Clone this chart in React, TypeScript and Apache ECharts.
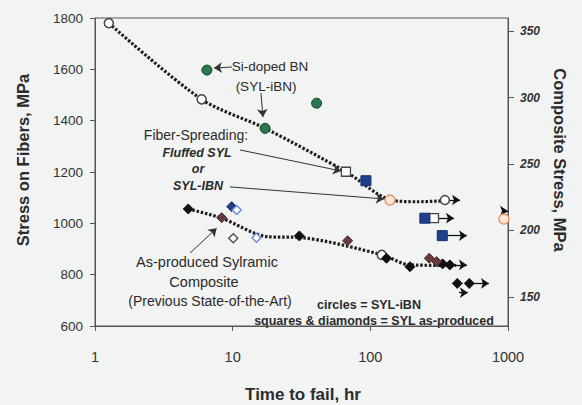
import React, { useEffect, useRef } from "react";
import * as echarts from "echarts";

// ---- data ----
const timeTicks = [1, 10, 100, 1000];
const fiberRange = [600, 1800];
const compositeRange = [128, 360];

// Trend (dotted) lines [hours, MPa]
const upperTrend = [[1.26, 1780], [5.95, 1483], [17.2, 1370], [66.5, 1201], [139, 1092], [220, 1084], [348, 1088]];
const lowerTrend = [[4.76, 1056], [8.32, 1020], [18, 948], [30.5, 945], [121, 878], [194, 838], [420, 836]];

// Markers
const siDopedBN = [[6.5, 1597], [17.2, 1370], [40.7, 1468]];
const sylIbnOpen = [[1.26, 1780], [5.95, 1483], [348, 1091], [121, 877]];
const sylIbnOrange = [[139, 1091], [934, 1017]];
const openSquares = [[66.5, 1201], [290, 1020]];
const navySquares = [[92.9, 1166], [249, 1020], [333, 952]];
const blackDiamonds = [[4.76, 1056], [30.5, 951], [131, 864], [194, 831], [335, 842], [378, 838], [428, 766], [523, 766]];
const brownDiamonds = [[8.32, 1022], [68.4, 932], [268, 864], [303, 851]];
const navyDiamonds = [[9.83, 1065]];
const lightBlueDiamonds = [[10.7, 1052], [14.9, 944]];
const openDiamonds = [[10.1, 942]];

// Run-out arrows: [fromHours, toHours, MPa]
const runouts = [[348, 448, 1091], [290, 405, 1020], [333, 503, 952], [378, 503, 838], [523, 727, 766], [440, 511, 730], [940, 1000, 1048]];

// Annotation arrows: [fromHours, fromMPa, toHours, toMPa]
const annotationArrows = [
  [9.88, 1609, 7.31, 1605],
  [16.05, 1508, 16.6, 1414],
  [11.3, 1286, 61.2, 1204],
  [9.56, 1142, 125.6, 1095],
  [4.9, 884, 7.65, 981],
];

const FONT = "Liberation Sans, Arial, sans-serif";

export default function App() {
  const ref = useRef<HTMLDivElement>(null);
  useEffect(() => {
    if (!ref.current) return;
    const chart = echarts.init(ref.current, null, { renderer: "svg" });
    const scatter = (name: string, data: number[][], symbol: string, size: number, color: string, borderColor: string, borderWidth = 1) => ({
      name,
      type: "scatter",
      data,
      symbol,
      symbolSize: size,
      itemStyle: { color, borderColor, borderWidth, opacity: 1 },
      z: 5,
      silent: true,
    });
    const text = (x: number, y: number, t: string, size: number, weight = "normal", style = "normal", extra: any = {}) => ({
      type: "text",
      x,
      y,
      style: {
        text: t,
        fontSize: size,
        fontWeight: weight,
        fontStyle: style,
        fontFamily: FONT,
        fill: "#2b2b2b",
        align: "center",
        verticalAlign: "middle",
      },
      ...extra,
    });
    const plain = (v: number) => String(v);
    chart.setOption({
      animation: false,
      backgroundColor: "#f2f3f3",
      grid: { left: 95, right: 74, top: 18, bottom: 79, show: true, borderColor: "#555", borderWidth: 1, backgroundColor: "transparent" },
      xAxis: {
        type: "log",
        logBase: 10,
        min: timeTicks[0],
        max: timeTicks[timeTicks.length - 1],
        axisLine: { lineStyle: { color: "#555" } },
        axisTick: { show: true, length: 5, lineStyle: { color: "#555" } },
        minorTick: { show: false },
        splitLine: { show: false },
        axisLabel: { fontSize: 14.5, color: "#333", margin: 23, fontFamily: FONT, formatter: plain },
      },
      yAxis: [
        {
          type: "value",
          min: fiberRange[0],
          max: fiberRange[1],
          interval: 200,
          position: "left",
          axisLine: { show: true, lineStyle: { color: "#555" } },
          axisTick: { show: true, length: 5, lineStyle: { color: "#555" } },
          splitLine: { show: false },
          axisLabel: { fontSize: 13.5, color: "#333", margin: 12, fontFamily: FONT, formatter: plain },
        },
        {
          type: "value",
          min: compositeRange[0],
          max: compositeRange[1],
          splitNumber: 5,
          position: "right",
          axisLine: { show: true, lineStyle: { color: "#555" } },
          axisTick: { show: true, length: 6, lineStyle: { color: "#555" } },
          splitLine: { show: false },
          axisLabel: {
            fontSize: 12,
            fontWeight: "bold",
            fontStyle: "italic",
            color: "#333",
            margin: 12,
            fontFamily: FONT,
            showMinLabel: false,
            showMaxLabel: false,
            formatter: plain,
          },
        },
      ],
      series: [
        {
          type: "line",
          data: upperTrend,
          smooth: 0.3,
          showSymbol: false,
          silent: true,
          lineStyle: { color: "#1e1e1e", width: 3.2, type: [2.5, 1.8] },
          z: 2,
          markLine: {
            silent: true,
            symbol: ["none", "arrow"],
            symbolSize: 8,
            label: { show: false },
            lineStyle: { color: "#333", width: 1, type: "solid" },
            data: annotationArrows.map((a) => [{ coord: [a[0], a[1]] }, { coord: [a[2], a[3]] }]),
          },
        },
        {
          type: "line",
          data: lowerTrend,
          smooth: 0.3,
          showSymbol: false,
          silent: true,
          lineStyle: { color: "#1e1e1e", width: 3.2, type: [2.5, 1.8] },
          z: 2,
          markLine: {
            silent: true,
            symbol: ["none", "arrow"],
            symbolSize: 8,
            label: { show: false },
            lineStyle: { color: "#111", width: 1.3, type: "solid" },
            data: runouts.map((r) => [{ coord: [r[0], r[2]] }, { coord: [r[1], r[2]] }]),
          },
        },
        scatter("Si-doped BN", siDopedBN, "circle", 10, "#2a7a50", "#173d29"),
        scatter("SYL-iBN", sylIbnOpen, "circle", 9, "#ffffff", "#444", 1.5),
        scatter("SYL-iBN fluffed", sylIbnOrange, "circle", 10, "#fde8da", "#e8956b", 1.5),
        scatter("open squares", openSquares, "rect", 9, "#ffffff", "#444", 1.3),
        scatter("navy squares", navySquares, "rect", 10, "#1d3f8c", "#152d66"),
        scatter("black diamonds", blackDiamonds, "diamond", 10, "#111111", "#111111"),
        scatter("brown diamonds", brownDiamonds, "diamond", 10, "#6a3a3e", "#4a2a2c"),
        scatter("navy diamonds", navyDiamonds, "diamond", 10, "#233d86", "#1a2d66"),
        scatter("light blue diamonds", lightBlueDiamonds, "diamond", 9, "#ffffff", "#6a8fd8", 1.5),
        scatter("open diamonds", openDiamonds, "diamond", 9, "#ffffff", "#555", 1.5),
      ],
      graphic: [
        text(23, 160, "Stress on Fibers, MPa", 16.5, "bold", "normal", { rotation: Math.PI / 2 }),
        text(560, 160, "Composite Stress, MPa", 16.5, "bold", "normal", { rotation: -Math.PI / 2 }),
        text(303, 394, "Time to fail, hr", 17, "bold"),
        text(270, 66, "Si-doped BN", 13.5),
        text(266, 86, "(SYL-iBN)", 13.5),
        text(196, 135, "Fiber-Spreading:", 14),
        text(197, 153, "Fluffed SYL", 12.5, "bold", "italic"),
        text(198, 169, "or", 12.5, "bold", "italic"),
        text(198, 186, "SYL-IBN", 12.5, "bold", "italic"),
        text(207, 262, "As-produced Sylramic", 14.5),
        text(204, 282, "Composite", 14.5),
        text(210, 301, "(Previous State-of-the-Art)", 14),
        text(369, 305, "circles = SYL-iBN", 12.5, "bold"),
        text(374, 321, "squares & diamonds = SYL as-produced", 12.5, "bold"),
      ],
    });
    return () => chart.dispose();
  }, []);
  return <div ref={ref} style={{ position: "absolute", left: 0, top: 0, width: 582, height: 405 }} />;
}
